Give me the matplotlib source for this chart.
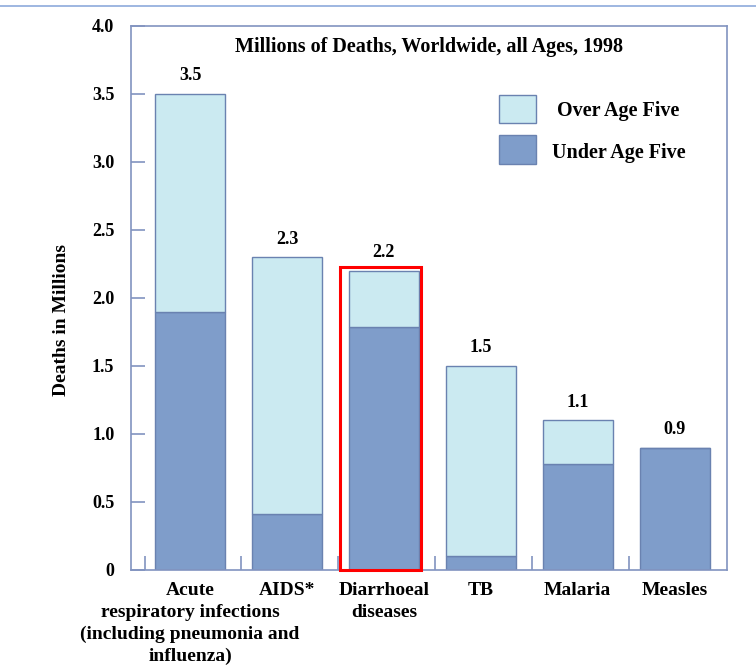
import matplotlib
matplotlib.use("Agg")
import matplotlib.pyplot as plt
from matplotlib.patches import Rectangle
from matplotlib.lines import Line2D

causes = ["Acute\nrespiratory infections\n(including pneumonia and\ninfluenza)",
          "AIDS*", "Diarrhoeal\ndiseases", "TB", "Malaria", "Measles"]
total = [3.5, 2.3, 2.2, 1.5, 1.1, 0.9]
under_five = [1.9, 0.41, 1.79, 0.1, 0.78, 0.9]
total_labels = ["3.5", "2.3", "2.2", "1.5", "1.1", "0.9"]
y_ticks = [0, 0.5, 1.0, 1.5, 2.0, 2.5, 3.0, 3.5, 4.0]
y_ticklabels = ["0", "0.5", "1.0", "1.5", "2.0", "2.5", "3.0", "3.5", "4.0"]

light = "#cbeaf1"
dark = "#7f9dca"
edge = "#6a82b0"
axcol = "#8294c0"

plt.rcParams['font.family'] = ['Liberation Serif', 'DejaVu Serif']
plt.rcParams['font.weight'] = 'bold'

fig = plt.figure(figsize=(7.56, 6.71), dpi=100)
ax = fig.add_axes([131/756, 1 - 570/671, (727-131)/756, (570-26)/671])

x = list(range(len(causes)))
over_five = [t - u for t, u in zip(total, under_five)]
w = 0.72
ax.bar(x, under_five, width=w, color=dark, edgecolor=edge, linewidth=1)
ax.bar(x, over_five, width=w, bottom=under_five, color=light, edgecolor=edge, linewidth=1)

for xi, t, lab in zip(x, total, total_labels):
    ax.text(xi, t + 0.07, lab, ha='center', va='bottom', fontsize=13, fontweight='bold')

ax.set_xlim(-0.61, 5.54)
ax.set_ylim(0, 4.0)
ax.set_yticks(y_ticks)
ax.set_yticklabels(y_ticklabels, fontsize=13, fontweight='bold')
ax.tick_params(axis='y', direction='in', length=10, width=1.2, color=axcol, pad=12)

# category boundary ticks on the bottom, labels drawn line by line
ax.set_xticks([i - 0.47 for i in x])
ax.set_xticklabels([])
ax.tick_params(axis='x', direction='in', length=10, width=1.2, color=axcol)
line_h = 22 / 136.3
for xi, c in zip(x, causes):
    for k, line in enumerate(c.split("\n")):
        ax.text(xi, -0.09 - k * line_h, line, ha='center', va='top', fontsize=14,
                fontweight='bold')

for s in ax.spines.values():
    s.set_color(axcol)
    s.set_linewidth(1.2)

ax.set_ylabel("Deaths in Millions", fontsize=14, fontweight='bold')
ax.yaxis.set_label_coords(-0.102, 0.46)
ax.text(0.5, 0.962, "Millions of Deaths, Worldwide, all Ages, 1998", transform=ax.transAxes,
        ha='center', va='center', fontsize=14.5, fontweight='bold')

# legend
ax.add_patch(Rectangle((0.617, 0.822), 0.062, 0.052, transform=ax.transAxes,
                       facecolor=light, edgecolor=edge, linewidth=1))
ax.add_patch(Rectangle((0.617, 0.747), 0.062, 0.052, transform=ax.transAxes,
                       facecolor=dark, edgecolor=edge, linewidth=1))
ax.text(0.818, 0.843, "Over Age Five", transform=ax.transAxes, ha='center', va='center',
        fontsize=14.5, fontweight='bold')
ax.text(0.818, 0.767, "Under Age Five", transform=ax.transAxes, ha='center', va='center',
        fontsize=14.5, fontweight='bold')

# highlight box
ax.add_patch(Rectangle((1.546, 0), 0.835, 2.23, facecolor='none', edgecolor='#ff0000',
                       linewidth=2.2, clip_on=False, zorder=5))

fig.add_artist(Line2D([0, 1], [1 - 6/671, 1 - 6/671], color="#8eaadb", linewidth=1.2))

fig.savefig("out.png", dpi=100)
